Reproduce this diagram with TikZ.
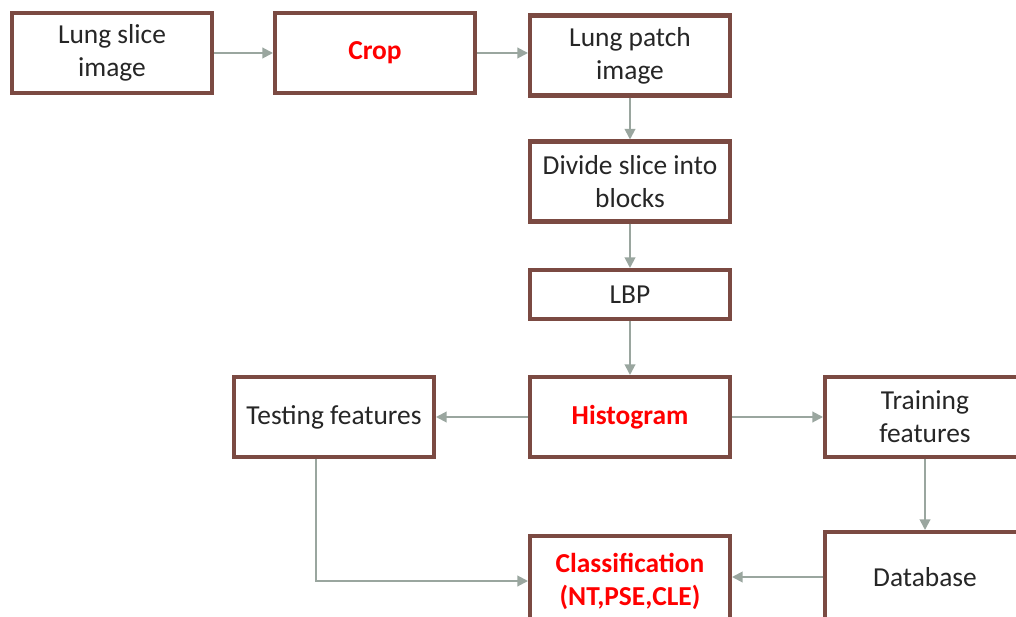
\documentclass[tikz,border=0pt]{standalone}
\usepackage{fontspec}
\setmainfont{Carlito}
\usetikzlibrary{arrows.meta}
\definecolor{boxedge}{HTML}{7B4A42}
\definecolor{linkgray}{HTML}{9AA69F}
\definecolor{txtdark}{HTML}{262626}
\begin{document}
\begin{tikzpicture}[x=0.02cm, y=-0.02cm,
    box/.style={draw=boxedge, line width=2.3pt, fill=white, minimum width=4cm, minimum height=1.6cm,
        align=center, text=txtdark, font=\fontsize{15.6}{18.8}\selectfont, inner sep=0pt},
    redtxt/.style={text=red, font=\fontsize{15.6}{18.8}\selectfont\bfseries},
    link/.style={draw=linkgray, line width=1.1pt, -{Triangle[length=6pt, width=6pt]}}]
    \useasboundingbox (0, 0) rectangle (1016, 617);
    \clip (0, 0) rectangle (1016, 617);

    \node[box] (slice) at (112, 53) {Lung slice\\image};
    \node[box, redtxt] (crop) at (375, 53) {Crop};
    \node[box] (patch) at (630, 55.5) {Lung patch\\image};
    \node[box] (divide) at (630, 181.5) {Divide slice into\\blocks};
    \node[box, minimum height=0.98cm] (lbp) at (630, 294.5) {LBP};
    \node[box, redtxt] (hist) at (630, 417) {Histogram};
    \node[box] (test) at (334, 417) {Testing features};
    \node[box] (train) at (925, 417) {Training\\features};
    \node[box, redtxt, minimum height=1.8cm] (classif) at (630, 581) {Classification\\(NT,PSE,CLE)};
    \node[box, minimum height=1.8cm] (db) at (925, 577) {Database};

    \draw[link] (slice) -- (crop);
    \draw[link] (crop) -- (crop -| patch.west);
    \draw[link] (patch) -- (divide);
    \draw[link] (divide) -- (lbp);
    \draw[link] (lbp) -- (hist);
    \draw[link] (hist) -- (test);
    \draw[link] (hist) -- (train);
    \draw[link] (train) -- (db);
    \draw[link] (db.west) -- (db.west -| classif.east);
    \draw[link] ([xshift=-0.36cm]test.south) |- (classif.west);
\end{tikzpicture}
\end{document}
